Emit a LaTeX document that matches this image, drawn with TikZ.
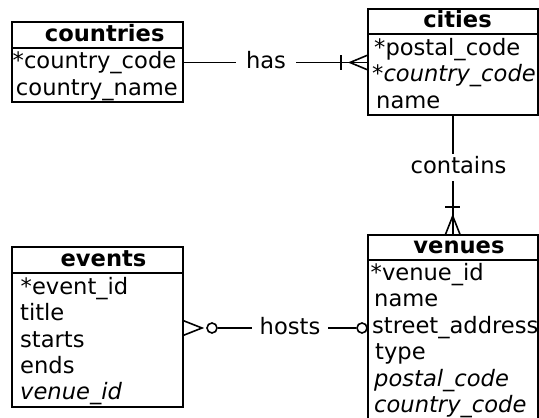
\documentclass[tikz,border=0pt]{standalone}
\usepackage{fontspec}
\setmainfont{DejaVu Sans}
\usetikzlibrary{calc}
\begin{document}
\begin{tikzpicture}[x=1pt,y=-1pt,
  every node/.style={font=\fontsize{22.6}{26.4}\selectfont},
  tbl/.style={draw, line width=2pt, anchor=north west, inner sep=0pt, outer sep=0pt, rectangle},
  hdr/.style={anchor=base, inner sep=0pt, font=\fontsize{22.6}{26.4}\selectfont\bfseries},
  fld/.style={anchor=base west, inner sep=0pt},
  ifld/.style={anchor=base west, inner sep=0pt, font=\fontsize{22.6}{26.4}\selectfont\itshape},
  rel/.style={inner xsep=10pt, inner ysep=1pt, text height=18.5pt, text depth=6.5pt},
  conn/.style={line width=1.6pt},
  divider/.style={line width=1.5pt},
  opt/.style={circle, draw, line width=1.6pt, minimum size=10pt, inner sep=0pt, fill=white}]
\useasboundingbox (0,0) rectangle (539,418);
\clip (0,0) rectangle (539,418);

% tables
\node[tbl, minimum width=170.5pt, minimum height=79.5pt] (countries) at (12,22) {};
\node[tbl, minimum width=169.5pt, minimum height=106pt] (cities) at (368,9) {};
\node[tbl, minimum width=171pt, minimum height=160pt] (events) at (12,247) {};
\node[tbl, minimum width=169.5pt, minimum height=186pt] (venues) at (368,235) {};

\draw[divider] (countries.west |- 0,48) -- (countries.east |- 0,48);
\draw[divider] (cities.west |- 0,34) -- (cities.east |- 0,34);
\draw[divider] (events.west |- 0,273) -- (events.east |- 0,273);
\draw[divider] (venues.west |- 0,260) -- (venues.east |- 0,260);

% headers
\node[hdr] (countries-t) at (104.7,41.5) {countries};
\node[hdr] (cities-t) at (457.5,27.5) {cities};
\node[hdr] (events-t) at (103.5,266.5) {events};
\node[hdr] (venues-t) at (459,253.5) {venues};

% fields
\node[fld] (co1) at (12.5,68.5) {*country\_code};
\node[fld] (co2) at (15.8,95) {country\_name};

\node[fld] (ci1) at (374,55) {*postal\_code};
\node[ifld] (ci2) at (372,81.7) {*country\_code};
\node[fld] (ci3) at (376,108.3) {name};

\node[fld] (ev1) at (20.5,294.3) {*event\_id};
\node[fld] (ev2) at (20,320.7) {title};
\node[fld] (ev3) at (20,347.1) {starts};
\node[fld] (ev4) at (20,373.5) {ends};
\node[ifld] (ev5) at (20,399.9) {venue\_id};

\node[fld] (ve1) at (370.5,280) {*venue\_id};
\node[fld] (ve2) at (374,306.5) {name};
\node[fld] (ve3) at (372,333) {street\_address};
\node[fld] (ve4) at (375,359.3) {type};
\node[ifld] (ve5) at (374,386) {postal\_code};
\node[ifld] (ve6) at (374,412.3) {country\_code};

% has
\node[rel] (has) at (266,62.5) {has};
\coordinate (hasend) at (cities.west |- has);
\draw[conn] (countries.east |- has) -- (has.west);
\draw[conn] (has.east) -- (hasend);
\draw[conn] ([shift={(-27,-7.5)}]hasend) -- ++(0,15);
\draw[conn] ([shift={(0,-7.5)}]hasend) -- ++(-18,7.5) -- ++(18,7.5);

% contains
\node[rel] (contains) at (458.5,167.3) {contains};
\draw[conn] (cities.south) -- (cities.south |- contains.north);
\draw[conn] (cities.south |- contains.south) -- (venues.north);
\draw[conn] ([shift={(-7.5,-28)}]venues.north) -- ++(15,0);
\draw[conn] ([shift={(-7.5,0)}]venues.north) -- ++(7.5,-19) -- ++(7.5,19);

% hosts
\node[rel, inner xsep=8pt] (hosts) at (290,328) {hosts};
\coordinate (evE) at (events.east |- hosts);
\node[opt] (o1) at ($(evE)+(29,0)$) {};
\node[opt] (o2) at ($(venues.west |- hosts)+(-6,0)$) {};
\draw[conn] (o1) -- (hosts);
\draw[conn] (hosts) -- (o2);
\draw[conn] ([shift={(0,-7.5)}]evE) -- ++(19,7.5) -- ++(-19,7.5);
\end{tikzpicture}
\end{document}
